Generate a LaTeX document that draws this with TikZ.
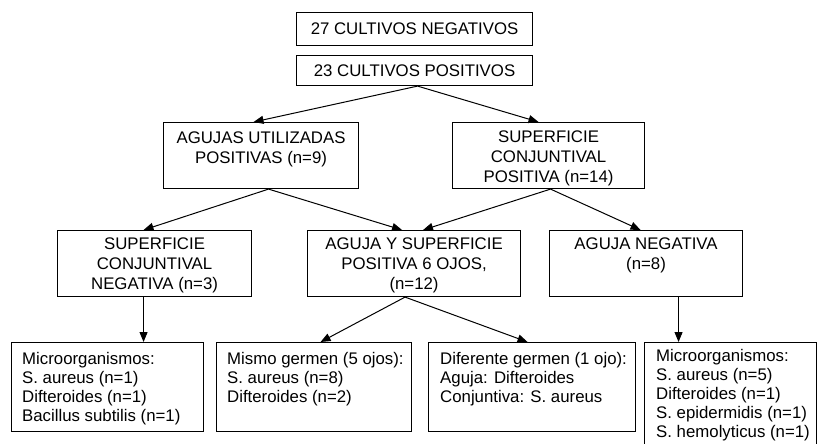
\documentclass[tikz,border=0pt]{standalone}
\usepackage{fontspec}
\setmainfont{Liberation Sans}
\usetikzlibrary{arrows.meta}
\tikzset{
  box/.style={draw, line width=1.1pt, inner sep=0pt, anchor=north west},
  ctext/.style={inner sep=0pt, align=center, anchor=north, font=\fontsize{16.8}{20}\selectfont},
  ltext/.style={inner sep=0pt, align=left, anchor=north west, font=\fontsize{16.8}{19}\selectfont},
  arr/.style={-{Triangle[length=10pt,width=8pt]}, line width=1pt},
}
\begin{document}
\begin{tikzpicture}[x=1pt,y=-1pt]
\useasboundingbox (0,0) rectangle (817,444);
\clip (0,0) rectangle (817,444);
% top boxes
\node[box, minimum width=236pt, minimum height=33pt, font=\fontsize{16.8}{20}\selectfont] (n1) at (296,12) {27 CULTIVOS NEGATIVOS};
\node[box, minimum width=236pt, minimum height=30pt, font=\fontsize{16.8}{20}\selectfont] (n2) at (296,55) {23 CULTIVOS POSITIVOS};
% second row
\node[box, minimum width=195pt, minimum height=66pt] (ag) at (163,122) {};
\node[ctext] (agt) at ([yshift=-9.5pt]ag.north) {AGUJAS UTILIZADAS\\POSITIVAS (n=9)};
\node[box, minimum width=192pt, minimum height=66pt] (sp) at (452,122) {};
\node[ctext] (spt) at ([yshift=-9pt]sp.north) {SUPERFICIE\\CONJUNTIVAL\\POSITIVA (n=14)};
% third row
\node[box, minimum width=194pt, minimum height=66pt] (sn) at (57,230) {};
\node[ctext] (snt) at ([yshift=-8pt]sn.north) {SUPERFICIE\\CONJUNTIVAL\\NEGATIVA (n=3)};
\node[box, minimum width=213pt, minimum height=66pt] (ays) at (307,230) {};
\node[ctext] (ayst) at ([yshift=-8pt]ays.north) {AGUJA Y SUPERFICIE\\POSITIVA 6 OJOS,\\(n=12)};
\node[box, minimum width=193pt, minimum height=66pt] (an) at (549,230) {};
\node[ctext] (ant) at ([yshift=-8pt]an.north) {AGUJA NEGATIVA\\(n=8)};
% bottom row
\node[box, minimum width=192pt, minimum height=89pt] (ba) at (11,342) {};
\node[ltext] (bat) at ([xshift=11pt,yshift=-10pt]ba.north west) {Microorganismos:\\S. aureus (n=1)\\Difteroides (n=1)\\Bacillus subtilis (n=1)};
\node[box, minimum width=195pt, minimum height=89pt] (bb) at (216,342) {};
\node[ltext] (bbt) at ([xshift=11pt,yshift=-10pt]bb.north west) {Mismo germen (5 ojos):\\S. aureus (n=8)\\Difteroides (n=2)};
\node[box, minimum width=207pt, minimum height=89pt] (bc) at (428,342) {};
\node[ltext] (bct) at ([xshift=12pt,yshift=-10pt]bc.north west) {Diferente germen (1 ojo):\\Aguja: Difteroides\\Conjuntiva: S. aureus};
\node[box, minimum width=172pt, minimum height=130pt] (bd) at (644,342) {};
\node[ltext] (bdt) at ([xshift=12pt,yshift=-7pt]bd.north west) {Microorganismos:\\S. aureus (n=5)\\Difteroides (n=1)\\S. epidermidis (n=1)\\S. hemolyticus (n=1)};
% arrows
\draw[arr] ([xshift=3pt]n2.south) -- ([xshift=-7.5pt]ag.north);
\draw[arr] ([xshift=3pt]n2.south) -- ([xshift=-10pt]sp.north);
\draw[arr] ([xshift=7.5pt]ag.south) -- ([xshift=-11pt]sn.north);
\draw[arr] ([xshift=7.5pt]ag.south) -- ([xshift=-12pt]ays.north);
\draw[arr] ([xshift=2pt]sp.south) -- ([xshift=9pt]ays.north);
\draw[arr] ([xshift=2pt]sp.south) -- ([xshift=-5.5pt]an.north);
\draw[arr] ([xshift=-11pt]sn.south) -- ([xshift=36pt]ba.north);
\draw[arr] ([xshift=-9pt]ays.south) -- ([xshift=6.5pt]bb.north);
\draw[arr] ([xshift=-9pt]ays.south) -- ([xshift=-4.5pt]bc.north);
\draw[arr] ([xshift=32.5pt]an.south) -- ([xshift=-52pt]bd.north);
\end{tikzpicture}
\end{document}
